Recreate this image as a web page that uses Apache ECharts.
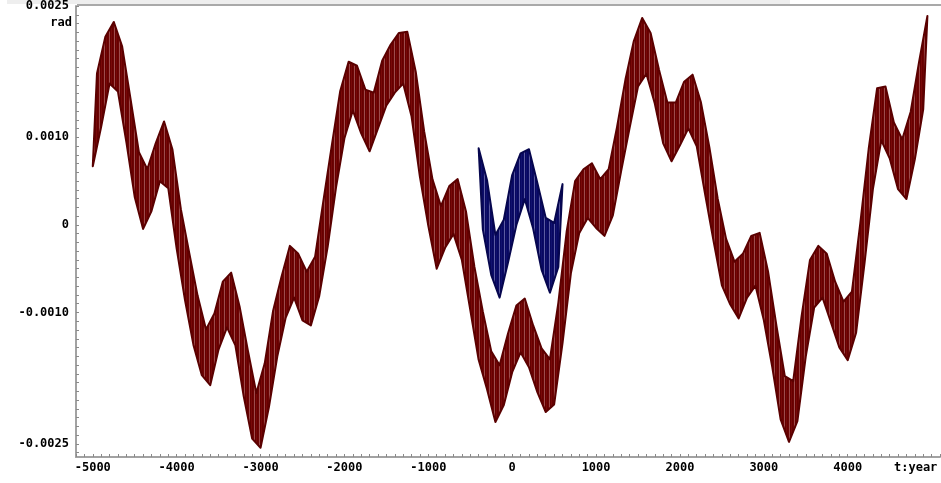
<!DOCTYPE html>
<html>
<head>
<meta charset="utf-8">
<script src="https://cdn.jsdelivr.net/npm/echarts@6/dist/echarts.min.js"></script>
<style>
  html, body { margin: 0; padding: 0; background: #ffffff; }
  #chart { width: 941px; height: 483px; }
</style>
</head>
<body>
<div id="chart"></div>
<script>
// Angle series in units of 1e-4 rad. The fast oscillation is drawn as a band
// between two envelopes: lower samples every 100 years, upper samples offset by 50.
const UNIT = 1e-4;

// Long series: -5000 .. 5000
const mainLowerStart = -5000;
const mainUpperStart = -4950;
const mainStep = 100;
const mainLower = [
  6.70, 11.2, 16.14, 15.23, 9.5, 3.2, -0.45, 1.59, 5.00, 4.20,
  -2.7, -8.6, -13.7, -17.16, -18.30, -14.20, -11.70, -13.75, -19.6, -24.4,
  -25.45, -20.8, -15.0, -10.57, -8.30, -10.91, -11.48, -8.1, -2.5, 4.3,
  9.9, 13.07, 10.45, 8.41, 11.02, 13.64, 15.11, 16.14, 12.4, 5.5,
  -0.1, -5.00, -2.61, -1.02, -4.0, -9.7, -15.4, -18.75, -22.50, -20.57,
  -16.82, -14.55, -16.25, -19.09, -21.36, -20.5, -13.5, -5.5, -0.91, 0.80,
  -0.34, -1.25, 1.1, 6.2, 11.1, 15.80, 17.27, 13.86, 9.32, 7.27,
  9.09, 11.02, 8.98, 3.5, -1.8, -6.9, -9.09, -10.68, -8.30, -6.93,
  -10.9, -16.2, -22.2, -24.77, -22.4, -15.0, -9.43, -8.30, -11.14, -13.98,
  -15.45, -12.3, -4.4, 4.1, 9.66, 7.61, 4.09, 2.95, 7.5, 13.2
];
const mainUpper = [
  17.3, 21.5, 23.18, 20.4, 14.4, 8.3, 6.36, 9.32, 11.82, 8.6,
  1.8, -3.2, -8.1, -11.93, -10.11, -6.48, -5.45, -9.3, -14.4, -19.20,
  -15.8, -9.8, -5.91, -2.39, -3.30, -5.34, -3.64, 2.8, 9.1, 15.3,
  18.64, 18.18, 15.45, 15.11, 18.75, 20.57, 21.93, 22.05, 17.5, 10.7,
  5.2, 2.16, 4.43, 5.23, 1.5, -4.8, -9.9, -14.43, -16.02, -12.39,
  -9.20, -8.41, -11.48, -14.09, -15.34, -8.9, -0.7, 5.0, 6.36, 7.05,
  5.23, 6.36, 11.2, 16.6, 21.0, 23.64, 21.93, 17.73, 13.98, 13.98,
  16.36, 17.16, 14.0, 8.9, 3.0, -1.59, -4.20, -3.30, -1.25, -0.91,
  -5.3, -11.5, -17.27, -17.84, -10.4, -4.0, -2.39, -3.30, -6.48, -8.75,
  -7.61, 0.2, 8.7, 15.6, 15.80, 11.70, 9.77, 12.9, 18.6, 23.86
];

// Short series: -400 .. 600
const shortUpperStart = -400;
const shortLowerStart = -350;
const shortStep = 100;
const shortUpper = [8.75, 5.1, -1.14, 0.6, 5.7, 8.18, 8.64, 4.8, 0.8, 0.23, 4.66];
const shortLower = [-0.5, -5.7, -8.30, -4.3, 0.0, 2.95, -0.4, -5.1, -7.73, -4.8];

// Axis labels and ticks
const xLabelYears = [-5000, -4000, -3000, -2000, -1000, 0, 1000, 2000, 3000, 4000];
const yLabelValues = [-0.0025, -0.0010, 0, 0.0010, 0.0025];

const xTicks = [];
for (let y = -5200; y <= 5100; y += 100) xTicks.push(y);
const yTicks = [];
for (let k = -26; k <= 25; k++) yTicks.push(k / 10000);

// Fine vertical hatching that gives the dense oscillation its streaked look.
function stripes(cols) {
  const c = document.createElement('canvas');
  c.width = cols.length;
  c.height = 1;
  const ctx = c.getContext('2d');
  cols.forEach((col, i) => { ctx.fillStyle = col; ctx.fillRect(i, 0, 1, 1); });
  return { image: c, repeat: 'repeat' };
}

// Polygon: upper envelope forward, lower envelope backward.
function band(name, lower, lowerStart, upper, upperStart, step, fill, edge, z) {
  return {
    name,
    type: 'custom',
    coordinateSystem: 'cartesian2d',
    data: [[upperStart, upper[0] * UNIT]],
    z,
    renderItem: (params, api) => {
      const pts = [];
      upper.forEach((v, i) => pts.push(api.coord([upperStart + i * step, v * UNIT])));
      for (let i = lower.length - 1; i >= 0; i--) {
        pts.push(api.coord([lowerStart + i * step, lower[i] * UNIT]));
      }
      return {
        type: 'polygon',
        shape: { points: pts },
        style: { fill, stroke: edge, lineWidth: 2, lineJoin: 'round' }
      };
    }
  };
}

const labelFont = {
  color: '#000000',
  fontFamily: 'DejaVu Sans Mono',
  fontWeight: 'bold',
  fontSize: 12
};

const chart = echarts.init(document.getElementById('chart'), null, { renderer: 'canvas' });
chart.setOption({
  animation: false,
  backgroundColor: '#ffffff',
  grid: { left: 76, top: 4, width: 864, height: 453, containLabel: false },
  xAxis: {
    type: 'value',
    min: -5200,
    max: 5100,
    splitLine: { show: false },
    axisLine: { show: true, onZero: false, lineStyle: { color: '#a2a2a2', width: 2 } },
    axisTick: { show: true, inside: true, length: 3, customValues: xTicks,
      lineStyle: { color: '#8a8a8a', width: 1 } },
    axisLabel: Object.assign({ show: true, margin: 5, customValues: xLabelYears,
      formatter: v => String(v) }, labelFont)
  },
  yAxis: {
    type: 'value',
    min: -0.00265,
    max: 0.0025,
    splitLine: { show: false },
    axisLine: { show: true, onZero: false, lineStyle: { color: '#a2a2a2', width: 2 } },
    axisTick: { show: true, inside: true, length: 3, customValues: yTicks,
      lineStyle: { color: '#8a8a8a', width: 1 } },
    axisLabel: Object.assign({ show: true, margin: 7, customValues: yLabelValues,
      formatter: v => (Math.abs(v) < 1e-12 ? '0' : v.toFixed(4)) }, labelFont)
  },
  graphic: [
    { type: 'rect', left: 7, top: 0, shape: { width: 783, height: 4 },
      style: { fill: '#eeeeee' }, silent: true },
    { type: 'line', shape: { x1: 77, y1: 5, x2: 941, y2: 5 },
      style: { stroke: '#8c8c8c', lineWidth: 1.5 }, silent: true },
    { type: 'text', right: 869, top: 17,
      style: { text: 'rad', fill: '#000', font: 'bold 12px "DejaVu Sans Mono"' } },
    { type: 'text', left: 894, top: 462,
      style: { text: 't:year', fill: '#000', font: 'bold 12px "DejaVu Sans Mono"' } }
  ],
  series: [
    band('long', mainLower, mainLowerStart, mainUpper, mainUpperStart, mainStep,
      stripes(['#640000', '#780808', '#660000', '#6e0404', '#9c4c4c']), '#5a0000', 2),
    band('short', shortLower, shortLowerStart, shortUpper, shortUpperStart, shortStep,
      stripes(['#080860', '#10106e', '#080860', '#0c0c66', '#5c5ca0']), '#06064e', 3)
  ]
});
</script>
</body>
</html>
